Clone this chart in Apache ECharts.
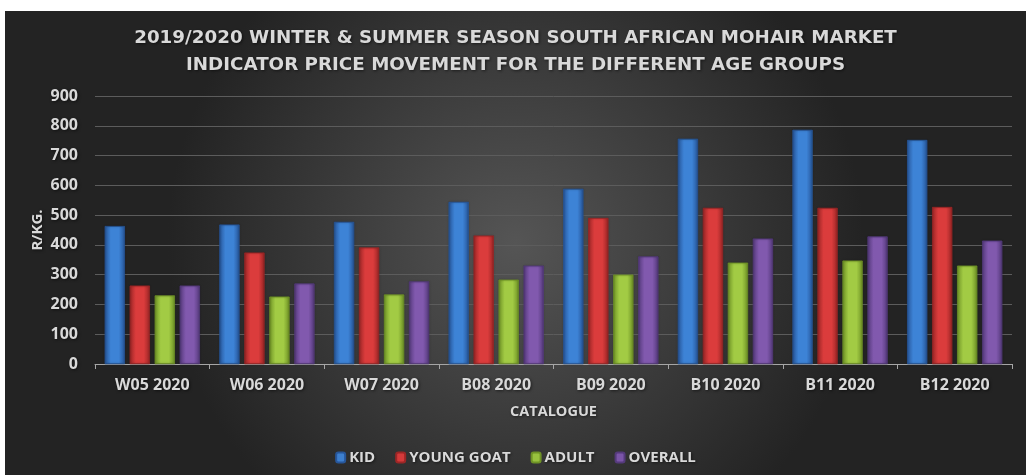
<!DOCTYPE html>
<html>
<head>
<meta charset="utf-8">
<script src="https://cdn.jsdelivr.net/npm/echarts@6/dist/echarts.min.js"></script>
<style>
html,body{margin:0;padding:0;background:#ffffff;}
#chart{position:absolute;left:5px;top:11px;width:1021px;height:464px;}
</style>
</head>
<body>
<div id="chart"></div>
<script>
var categories = ['W05 2020','W06 2020','W07 2020','B08 2020','B09 2020','B10 2020','B11 2020','B12 2020'];
var kid        = [463, 468, 477, 544, 588, 756, 786, 752];
var youngGoat  = [263, 374, 391, 431, 490, 524, 524, 527];
var adult      = [230, 226, 233, 283, 300, 340, 347, 330];
var overall    = [263, 270, 277, 330, 361, 421, 428, 414];
var yTicks     = [0, 100, 200, 300, 400, 500, 600, 700, 800, 900];

var FONT = '"Open Sans", "Liberation Sans", sans-serif';
var TFONT = '"DejaVu Sans", "Open Sans", sans-serif';
var TXT = '#d9d9d9';
var SH = {textShadowColor: 'rgba(0,0,0,0.55)', textShadowBlur: 3, textShadowOffsetX: 1, textShadowOffsetY: 1};

function barGrad(edge, mid) {
  return {
    type: 'linear', x: 0, y: 0, x2: 1, y2: 0,
    colorStops: [
      {offset: 0, color: edge},
      {offset: 0.3, color: mid},
      {offset: 0.7, color: mid},
      {offset: 1, color: edge}
    ]
  };
}

var styles = [
  {name: 'KID', data: kid, edge: '#27569a', mid: '#3d83d6', legend: '#3d7fce'},
  {name: 'YOUNG GOAT', data: youngGoat, edge: '#9c2626', mid: '#db3c3c', legend: '#d43a3a'},
  {name: 'ADULT', data: adult, edge: '#6f9326', mid: '#a2cb44', legend: '#98c13e'},
  {name: 'OVERALL', data: overall, edge: '#553a7c', mid: '#8159ae', legend: '#7b55a8'}
];

function ts(size) {
  return Object.assign({color: TXT, fontSize: size, fontWeight: 'bold', fontFamily: FONT}, SH);
}

var chart = echarts.init(document.getElementById('chart'));
chart.setOption({
  backgroundColor: {
    type: 'radial', x: 0.5, y: 0.5, r: 0.75,
    colorStops: [{offset: 0, color: '#555555'}, {offset: 1, color: '#232323'}]
  },
  textStyle: {fontFamily: FONT},
  title: {
    text: '2019/2020 WINTER & SUMMER SEASON SOUTH AFRICAN MOHAIR MARKET\nINDICATOR PRICE MOVEMENT FOR THE DIFFERENT AGE GROUPS',
    left: 'center', top: 9,
    textStyle: Object.assign({color: TXT, fontSize: 18.3, fontWeight: 'bold', fontFamily: TFONT, lineHeight: 27}, SH)
  },
  legend: {
    bottom: 5, left: 'center',
    itemWidth: 9, itemHeight: 10, itemGap: 20,
    data: styles.map(function (s) { return {name: s.name, itemStyle: {color: s.legend}}; }),
    textStyle: Object.assign(ts(15), {padding: [0, 0, 0, -1]})
  },
  grid: {left: 90, right: 14, top: 85, bottom: 111, containLabel: false},
  xAxis: {
    type: 'category', data: categories,
    name: 'CATALOGUE', nameLocation: 'middle', nameGap: 40,
    nameTextStyle: ts(14.5),
    axisLine: {show: true, lineStyle: {color: '#a6a6a6', width: 1}},
    axisTick: {show: true, length: 5, lineStyle: {color: '#a6a6a6'}},
    axisLabel: Object.assign(ts(16), {margin: 13})
  },
  yAxis: {
    type: 'value', min: yTicks[0], max: yTicks[yTicks.length - 1], interval: 100,
    name: 'R/KG.', nameLocation: 'middle', nameGap: 50, nameRotate: 90, nameMoveOverlap: false,
    nameTextStyle: ts(15),
    axisLine: {show: false}, axisTick: {show: false},
    axisLabel: Object.assign(ts(16), {margin: 17}),
    splitLine: {lineStyle: {color: '#5c5c5c', width: 1}}
  },
  series: styles.map(function (s) {
    return {
      name: s.name, type: 'bar', data: s.data,
      barWidth: 20, barGap: '25%',
      itemStyle: {color: barGrad(s.edge, s.mid), borderColor: s.edge, borderWidth: 0.5,
        shadowColor: 'rgba(0,0,0,0.4)', shadowBlur: 2},
      emphasis: {disabled: true}
    };
  })
});
</script>
</body>
</html>
